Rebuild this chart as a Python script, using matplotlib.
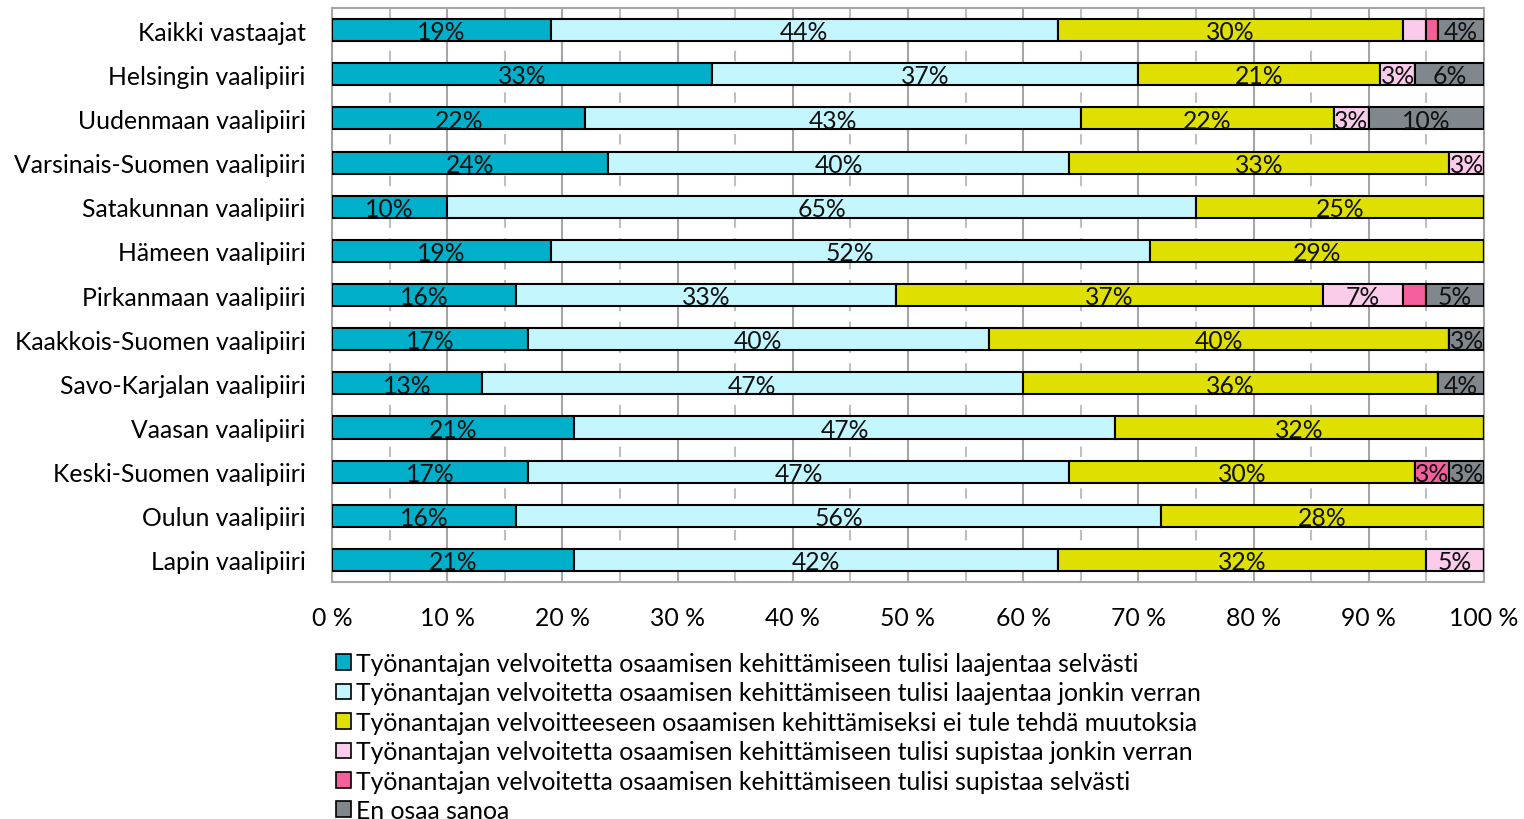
import matplotlib.pyplot as plt
import numpy as np
from matplotlib.patches import Patch

plt.rcParams['font.family'] = ['Lato', 'DejaVu Sans']

categories = ['Kaikki vastaajat', 'Helsingin vaalipiiri', 'Uudenmaan vaalipiiri',
              'Varsinais-Suomen vaalipiiri', 'Satakunnan vaalipiiri', 'Hämeen vaalipiiri',
              'Pirkanmaan vaalipiiri', 'Kaakkois-Suomen vaalipiiri', 'Savo-Karjalan vaalipiiri',
              'Vaasan vaalipiiri', 'Keski-Suomen vaalipiiri', 'Oulun vaalipiiri',
              'Lapin vaalipiiri']

laajentaa_selvasti = [19, 33, 22, 24, 10, 19, 16, 17, 13, 21, 17, 16, 21]
laajentaa_jonkin = [44, 37, 43, 40, 65, 52, 33, 40, 47, 47, 47, 56, 42]
ei_muutoksia = [30, 21, 22, 33, 25, 29, 37, 40, 36, 32, 30, 28, 32]
supistaa_jonkin = [2, 3, 3, 3, 0, 0, 7, 0, 0, 0, 0, 0, 5]
supistaa_selvasti = [1, 0, 0, 0, 0, 0, 2, 0, 0, 0, 3, 0, 0]
en_osaa = [4, 6, 10, 0, 0, 0, 5, 3, 4, 0, 3, 0, 0]

series_names = [
    'Työnantajan velvoitetta osaamisen kehittämiseen tulisi laajentaa selvästi',
    'Työnantajan velvoitetta osaamisen kehittämiseen tulisi laajentaa jonkin verran',
    'Työnantajan velvoitteeseen osaamisen kehittämiseksi ei tule tehdä muutoksia',
    'Työnantajan velvoitetta osaamisen kehittämiseen tulisi supistaa jonkin verran',
    'Työnantajan velvoitetta osaamisen kehittämiseen tulisi supistaa selvästi',
    'En osaa sanoa',
]
colors = ['#00B0CB', '#C4F6FF', '#E0E000', '#FACCEA', '#F5609C', '#80888E']

series = [laajentaa_selvasti, laajentaa_jonkin, ei_muutoksia,
          supistaa_jonkin, supistaa_selvasti, en_osaa]

fs = 17.8

fig = plt.figure(figsize=(15.24, 8.2), dpi=100)
ax = fig.add_axes([332 / 1524, 1 - 583 / 820, (1484 - 332) / 1524, (583 - 9) / 820])

y = np.arange(len(categories))
left = np.zeros(len(categories))
for vals, col in zip(series, colors):
    vals = np.array(vals, dtype=float)
    ax.barh(y, vals, left=left, height=0.5, color=col, edgecolor='black',
            linewidth=1.5, zorder=3)
    for yi, (l, v) in enumerate(zip(left, vals)):
        if v >= 3:
            ax.text(l + v / 2, yi + 0.04, f'{int(v)}%', ha='center', va='center',
                    fontsize=fs, color='#111111', zorder=4)
    left += vals

ax.set_xlim(0, 100)
ax.set_ylim(len(categories) - 0.5, -0.5)
ax.set_yticks(y)
ax.set_yticklabels(categories, fontsize=fs)
ax.set_xticks(np.arange(0, 101, 10))
ax.set_xticklabels([f'{v} %' for v in range(0, 101, 10)], fontsize=fs)
ax.tick_params(axis='both', length=0)
ax.tick_params(axis='x', pad=17)
ax.tick_params(axis='y', pad=19)

for v in range(0, 101, 5):
    if v % 10 == 0:
        ax.axvline(v, color='#A6A6A6', linewidth=1.5, zorder=1)
    else:
        ax.axvline(v, color='#BFBFBF', linewidth=1.5, linestyle=(0, (5, 5)), zorder=1)

for s in ax.spines.values():
    s.set_color('#A6A6A6')
    s.set_linewidth(1.5)

handles = [Patch(facecolor=c, edgecolor='black', linewidth=1.2) for c in colors]
fig.legend(handles, series_names, loc='upper left',
           bbox_to_anchor=(326 / 1524, 1 - 643 / 820), frameon=False,
           fontsize=fs, handlelength=0.6, handleheight=0.6, handletextpad=0.2,
           labelspacing=0.26, borderaxespad=0)

fig.savefig('out.png', dpi=100)
